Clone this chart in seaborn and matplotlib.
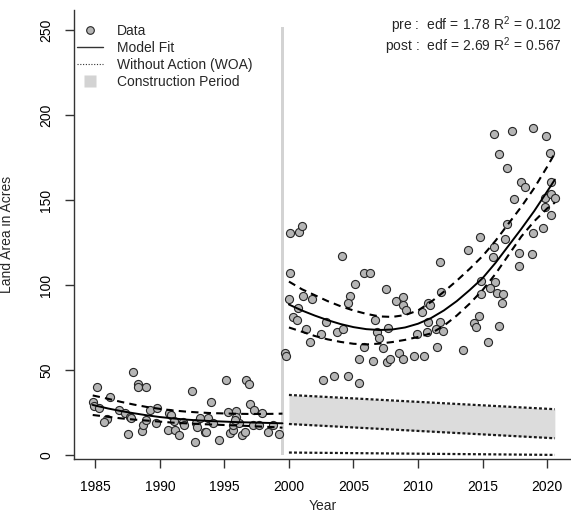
import numpy as np
import pandas as pd
import seaborn as sns
import matplotlib.pyplot as plt
from matplotlib.lines import Line2D

# observed land area, pre-construction (1985-1999)
pre_year = [1985.1, 1984.8, 1984.9, 1985.3, 1986.1, 1985.9, 1985.7, 1986.8, 1987.3, 1987.9,
            1988.3, 1988.3, 1988.9, 1987.7, 1987.8, 1987.5, 1988.6, 1988.7, 1988.9, 1989.2,
            1989.8, 1989.7, 1990.7, 1990.9, 1990.6, 1991.1, 1991.2, 1991.5, 1991.8, 1991.9,
            1992.5, 1992.7, 1992.8, 1992.9, 1993.1, 1993.5, 1993.6, 1993.7, 1994.0, 1994.1,
            1994.6, 1995.1, 1995.3, 1995.4, 1995.7, 1995.7, 1995.9, 1995.9, 1996.1, 1995.8,
            1996.4, 1996.6, 1996.7, 1996.9, 1997.0, 1997.3, 1997.2, 1997.7, 1997.9, 1998.4,
            1998.8, 1999.2]
pre_area = [40.2, 31.4, 28.8, 27.5, 34.3, 21.0, 19.6, 26.5, 24.5, 48.6,
            41.8, 39.8, 39.8, 22.5, 21.6, 12.4, 14.3, 17.6, 20.6, 26.5,
            27.5, 19.0, 24.5, 23.5, 14.7, 20.2, 14.7, 11.8, 19.6, 17.6,
            37.6, 7.8, 18.6, 16.3, 21.6, 13.7, 13.7, 21.6, 31.0, 18.6,
            8.8, 44.1, 25.5, 13.1, 14.7, 17.6, 26.1, 22.5, 18.6, 20.6,
            11.8, 13.7, 44.1, 41.8, 29.8, 26.5, 17.6, 17.6, 24.5, 13.7,
            17.6, 12.4]

# observed land area, post-construction (2000-2020)
post_year = [2000.1, 2000.8, 2001.0, 2000.1, 2000.0, 2000.7, 2001.1, 2001.8, 2000.3, 2000.6,
             1999.7, 1999.8, 2001.3, 2001.6, 2002.5, 2002.9, 2003.7, 2004.2, 2004.1, 2005.1,
             2004.7, 2004.6, 2005.8, 2006.3, 2005.8, 2005.4, 2006.5, 2007.5, 2006.7, 2006.8,
             2007.0, 2007.3, 2007.7, 2007.6, 2007.8, 2008.3, 2008.8, 2008.8, 2009.1, 2008.5,
             2008.8, 2009.7, 2009.9, 2002.6, 2003.5, 2004.6, 2005.4,
             2015.9, 2017.3, 2018.9, 2019.9, 2016.3, 2016.9, 2020.2, 2018.0, 2018.3, 2017.4,
             2020.3, 2019.8, 2020.3, 2020.6, 2019.8, 2020.3, 2019.7, 2018.9, 2016.9, 2016.7,
             2014.8, 2015.9, 2015.8, 2013.9, 2017.8, 2018.8, 2017.8, 2011.7, 2014.9, 2016.0,
             2015.6, 2016.1, 2016.6, 2016.5, 2014.9, 2011.8, 2010.8, 2010.9, 2010.3, 2010.8,
             2011.7, 2011.4, 2011.9, 2010.7, 2014.7, 2014.3, 2014.5, 2016.3, 2011.5, 2013.5,
             2015.4, 2010.5]
post_area = [130.4, 131.4, 134.9, 107.2, 91.8, 86.3, 93.7, 91.8, 81.0, 79.4,
             59.8, 58.5, 73.9, 66.6, 71.0, 78.4, 72.5, 73.9, 117.0, 100.4,
             93.7, 89.2, 107.2, 107.2, 63.7, 56.3, 55.3, 97.5, 79.4, 72.5,
             68.6, 62.8, 74.5, 54.9, 56.3, 90.8, 92.8, 88.2, 85.3, 59.8,
             56.3, 58.4, 71.0, 44.1, 46.5, 46.5, 42.2,
             188.8, 190.8, 192.2, 187.8, 176.9, 168.6, 177.8, 160.4, 157.8, 150.4,
             160.8, 151.4, 153.5, 151.4, 145.7, 141.2, 133.7, 130.4, 135.7, 126.9,
             128.1, 122.5, 116.6, 120.6, 119.0, 118.2, 111.4, 113.7, 102.5, 101.9,
             98.4, 95.1, 94.5, 89.6, 94.7, 96.1, 89.6, 88.2, 83.9, 78.4,
             78.4, 73.9, 73.1, 72.2, 81.8, 77.5, 75.5, 76.1, 63.7, 61.8,
             66.3, 58.2]

# GAM fit with confidence band, pre period
pre_fit_year = [1984.8, 1986, 1987, 1988, 1989, 1990, 1991, 1992, 1993, 1994,
                1995, 1996, 1997, 1998, 1999, 1999.5]
pre_fit = [29.4, 27.3, 25.8, 24.5, 23.3, 22.3, 21.5, 20.8, 20.3, 19.9,
           19.6, 19.3, 19.1, 18.9, 18.7, 18.6]
pre_upper = [35.0, 33.0, 31.2, 29.6, 28.2, 27.1, 26.2, 25.5, 25.0, 24.6,
             24.4, 24.2, 24.1, 24.1, 24.2, 24.3]
pre_lower = [23.5, 22.4, 21.5, 20.8, 20.2, 19.6, 19.0, 18.6, 18.2, 17.9,
             17.6, 17.3, 17.0, 16.6, 16.3, 16.0]

# GAM fit with confidence band, post period
post_fit_year = [2000, 2001, 2002, 2003, 2004, 2005, 2006, 2007, 2008, 2009, 2010,
                 2011, 2012, 2013, 2014, 2015, 2016, 2017, 2018, 2019, 2020, 2020.6]
post_fit = [88.5, 85.0, 82.0, 79.3, 77.0, 75.2, 74.0, 73.5, 73.8, 75.0, 77.2,
            80.5, 85.0, 90.5, 97.0, 104.0, 113.0, 123.0, 133.0, 143.5, 155.0, 162.0]
post_upper = [102.0, 97.5, 94.0, 90.5, 87.5, 85.0, 83.0, 81.5, 81.2, 82.3, 85.0,
              90.0, 96.0, 102.5, 109.5, 117.0, 126.0, 136.0, 146.0, 157.0, 169.5, 177.5]
post_lower = [75.0, 72.5, 70.0, 68.0, 66.5, 65.4, 65.0, 65.5, 66.4, 67.7, 69.4,
              71.5, 76.0, 82.0, 89.0, 97.0, 106.5, 117.5, 128.5, 137.5, 145.0, 148.5]

# without-action (WOA) projection
woa_year = [2000, 2020.6]
woa_upper = [35.3, 26.9]
woa_lower = [18.2, 9.8]
woa_floor = [1.4, 0.0]

# construction period marker
constr_x = [1999.35, 1999.65]
constr_top = 252

sns.set_theme(style="ticks")
plt.rcParams['font.family'] = ['Liberation Sans', 'DejaVu Sans']
plt.rcParams['mathtext.fontset'] = 'custom'
plt.rcParams['mathtext.rm'] = 'Liberation Sans'
plt.rcParams['mathtext.it'] = 'Liberation Sans'

fig = plt.figure(figsize=(5.71, 5.14), dpi=100)
ax = fig.add_axes([74 / 571, 1 - 459 / 514, (571 - 74) / 571, (459 - 10) / 514])

ax.fill_between(constr_x, 0, constr_top, color='#d3d3d3', lw=0, zorder=1)
ax.fill_between(woa_year, woa_lower, woa_upper, color='#dcdcdc', lw=0, zorder=1)

dots = dict(color='#1a1a1a', lw=1.6, dashes=(1.3, 1.0), zorder=3)
for yy in (woa_upper, woa_lower, woa_floor):
    ax.plot(woa_year, yy, **dots)

pts = pd.DataFrame({'year': pre_year + post_year, 'area': pre_area + post_area})
sns.scatterplot(data=pts, x='year', y='area', ax=ax, s=34, color='#b5b5b5',
                edgecolor='#262626', linewidth=0.8, zorder=4)

for xs, fit, lo, hi in ((pre_fit_year, pre_fit, pre_lower, pre_upper),
                        (post_fit_year, post_fit, post_lower, post_upper)):
    sns.lineplot(x=xs, y=fit, ax=ax, color='black', lw=1.4, estimator=None, sort=False, zorder=5)
    for band in (lo, hi):
        sns.lineplot(x=xs, y=band, ax=ax, color='black', lw=1.5, estimator=None,
                     sort=False, dashes=False, zorder=5).lines[-1].set_dashes((3.5, 2.5))

ax.set_xlim(1983.35, 2021.85)
ax.set_ylim(-2.4, 261.8)
ax.set_xticks(range(1985, 2021, 5))
ax.set_yticks(range(0, 251, 50))
sns.despine(ax=ax)
for s in ('left', 'bottom'):
    ax.spines[s].set_color('#333333')
    ax.spines[s].set_linewidth(1.0)
ax.tick_params(length=6.5, width=1.0, color='#333333', labelsize=10, pad=8.5, labelcolor='black')
for t in ax.get_yticklabels():
    t.set_rotation(90)
    t.set_va('center')

ax.set_xlabel('Year', fontsize=10)
ax.set_ylabel('Land Area in Acres', fontsize=10)
ax.xaxis.set_label_coords(0.5, -(499 - 459) / 449)
ax.yaxis.set_label_coords(-(74 - 14) / 497, 0.5)

handles = [
    Line2D([], [], ls='none', marker='o', ms=5.5, mfc='#b5b5b5', mec='#262626', mew=0.8),
    Line2D([], [], color='#333333', lw=1.0),
    Line2D([], [], color='#333333', lw=0.8, ls=(0, (1, 1.5))),
    Line2D([], [], ls='none', marker='s', ms=8, mfc='#d3d3d3', mec='none'),
]
labels = ['Data', 'Model Fit', 'Without Action (WOA)', 'Construction Period']
ax.legend(handles, labels, loc='upper left', bbox_to_anchor=(77 / 571, 1 - 24 / 514),
          bbox_transform=fig.transFigure, frameon=False, fontsize=10, handlelength=1.9,
          handletextpad=1.0, labelspacing=0.22, borderpad=0, borderaxespad=0)

stats = (r'pre :  edf$\,=\,$1.78 R$^2$$\,=\,$0.102' + '\n'
         + r'post :  edf$\,=\,$2.69 R$^2$$\,=\,$0.567')
fig.text(562 / 571, 1 - 36 / 514, stats, ha='right', va='center', fontsize=10,
         multialignment='right', linespacing=0.95)

fig.savefig('out.png', dpi=100)
